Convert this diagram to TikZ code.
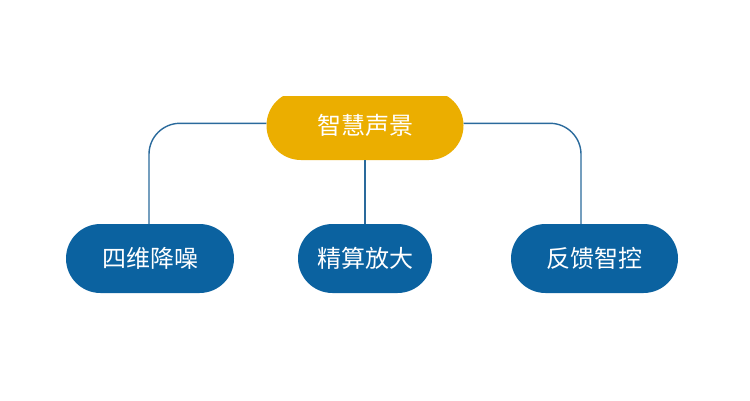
\documentclass[tikz,border=0pt]{standalone}
\usepackage{fontspec}
\newfontfamily\cjk{Noto Sans CJK SC}
\usetikzlibrary{shapes.misc}
\definecolor{gold}{HTML}{EBAE00}
\definecolor{nblue}{HTML}{0B62A0}
\definecolor{lblue}{HTML}{2A6A9C}
\tikzset{
  pill/.style={rounded rectangle, draw=none, text=white, inner sep=0pt,
    minimum height=69pt, font=\cjk\fontsize{24}{24}\selectfont},
  conn/.style={draw=lblue, line width=1.4pt, rounded corners=31pt},
}
\begin{document}
\begin{tikzpicture}[x=1pt,y=-1pt]
\useasboundingbox[fill=white] (0,0) rectangle (750,400);
\begin{scope}
  \clip (0,96) rectangle (750,400);
  \node[pill, fill=gold, minimum width=197pt] (top) at (365,125.5) {智慧声景};
\end{scope}
\node[pill, fill=nblue, minimum width=168pt] (left) at (150,258.5) {四维降噪};
\node[pill, fill=nblue, minimum width=134pt] (mid) at (365,258.5) {精算放大};
\node[pill, fill=nblue, minimum width=167pt] (right) at (594.5,258.5) {反馈智控};
\coordinate (lc) at (149,224);
\coordinate (rc) at (581,224);
\draw[conn] ([yshift=2.2pt]top.west) -| (lc);
\draw[conn] ([yshift=2.2pt]top.east) -| (rc);
\draw[conn] (top.south) -- (mid.north);
\end{tikzpicture}
\end{document}
